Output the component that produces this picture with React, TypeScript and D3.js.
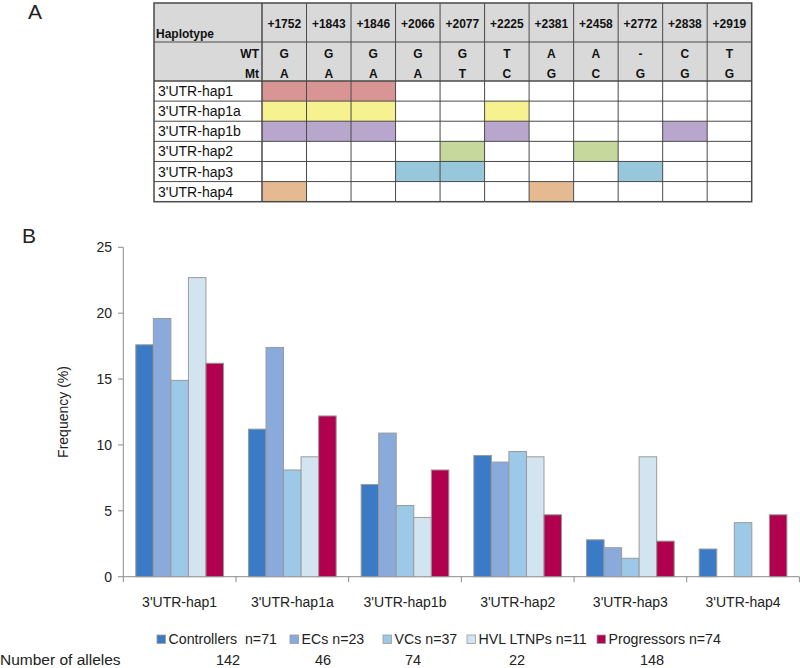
import React from "react";
import * as d3 from "d3";

const positions = ["+1752", "+1843", "+1846", "+2066", "+2077", "+2225", "+2381", "+2458", "+2772", "+2838", "+2919"];
const wtAlleles = ["G", "G", "G", "G", "G", "T", "A", "A", "-", "C", "T"];
const mtAlleles = ["A", "A", "A", "A", "T", "C", "G", "C", "G", "G", "G"];
const haplotypes = ["3'UTR-hap1", "3'UTR-hap1a", "3'UTR-hap1b", "3'UTR-hap2", "3'UTR-hap3", "3'UTR-hap4"];
const hapMutations = [
  ["+1752", "+1843", "+1846"],
  ["+1752", "+1843", "+1846", "+2225"],
  ["+1752", "+1843", "+1846", "+2225", "+2838"],
  ["+2077", "+2458"],
  ["+2066", "+2077", "+2772"],
  ["+1752", "+2381"],
];
const hapColors = ["#d99594", "#f5f28f", "#b8a6cc", "#c6d89c", "#96c7da", "#e6ba90"];

const groups = ["Controllers  n=71", "ECs n=23", "VCs n=37", "HVL LTNPs n=11", "Progressors n=74"];
const groupColors = ["#3b7ac4", "#8aaadc", "#9dc9e9", "#d3e4f1", "#b0004e"];
const controllers = [17.6, 11.2, 7.0, 9.2, 2.8, 2.1];
const ecs = [19.6, 17.4, 10.9, 8.7, 2.2, 0];
const vcs = [14.9, 8.1, 5.4, 9.5, 1.4, 4.1];
const hvl = [22.7, 9.1, 4.5, 9.1, 9.1, 0];
const progressors = [16.2, 12.2, 8.1, 4.7, 2.7, 4.7];
const seriesValues = [controllers, ecs, vcs, hvl, progressors];
const yTicks = [0, 5, 10, 15, 20, 25];
const alleleCounts = ["142", "46", "74", "22", "148"];

const FONT = "'Liberation Sans', Arial, sans-serif";

export default function App() {
  const tLeft = 154, tFirstColRight = 262, tRight = 751.7;
  const hTop = 3, h1Bottom = 42, h2Bottom = 81, tBottom = 201.7;
  const colX = d3.scaleBand<string>().domain(positions).range([tFirstColRight, tRight]);
  const rowY = d3.scaleBand<string>().domain(haplotypes).range([h2Bottom, tBottom]);

  const y = d3.scaleLinear().domain([0, 25]).range([576.7, 247.3]);
  const x0 = d3.scaleBand<string>().domain(haplotypes).range([123.3, 799.4]);
  const x1 = d3.scaleBand<string>().domain(groups).range([12.5, x0.bandwidth() - 12.5]);

  const legendX = [157, 290, 383, 467, 597];
  const alleleX = [228, 323, 413, 517, 652];

  const lineColor = "#4a4a4a";

  return (
    <svg width={800} height={668} style={{ position: "absolute", left: 0, top: 0, fontFamily: FONT }}>
      <rect width={800} height={668} fill="#fff" />
      <text x={28} y={19} fontSize={21} fill="#222">A</text>
      <text x={22} y={243} fontSize={21} fill="#222">B</text>

      <rect x={tLeft} y={hTop} width={tRight - tLeft} height={h2Bottom - hTop} fill="#d9d9d9" />
      {haplotypes.map((h, i) =>
        hapMutations[i].map((p) => (
          <rect key={h + p} x={colX(p)!} y={rowY(h)!} width={colX.bandwidth()} height={rowY.bandwidth()} fill={hapColors[i]} />
        ))
      )}
      {[h1Bottom, h2Bottom, ...haplotypes.map((h) => rowY(h)!)].map((yy, i) => (
        <line key={"h" + i} x1={tLeft} x2={tRight} y1={yy} y2={yy} stroke={lineColor} strokeWidth={1} />
      ))}
      {[tFirstColRight, ...positions.map((p) => colX(p)!)].map((xx, i) => (
        <line key={"v" + i} x1={xx} x2={xx} y1={hTop} y2={tBottom} stroke={lineColor} strokeWidth={1} />
      ))}
      <rect x={tLeft} y={hTop} width={tRight - tLeft} height={tBottom - hTop} fill="none" stroke={lineColor} strokeWidth={1.5} />
      <text x={156} y={38} fontSize={12} fontWeight="bold" fill="#111">Haplotype</text>
      <text x={259} y={58} fontSize={12} fontWeight="bold" fill="#111" textAnchor="end">WT</text>
      <text x={259} y={77.5} fontSize={12} fontWeight="bold" fill="#111" textAnchor="end">Mt</text>
      {positions.map((p, i) => {
        const cx = colX(p)! + colX.bandwidth() / 2;
        return (
          <g key={p}>
            <text x={cx} y={27.5} fontSize={12} fontWeight="bold" fill="#111" textAnchor="middle">{p}</text>
            <text x={cx} y={58} fontSize={12} fontWeight="bold" fill="#111" textAnchor="middle">{wtAlleles[i]}</text>
            <text x={cx} y={77.5} fontSize={12} fontWeight="bold" fill="#111" textAnchor="middle">{mtAlleles[i]}</text>
          </g>
        );
      })}
      {haplotypes.map((h) => (
        <text key={h} x={158} y={rowY(h)! + rowY.bandwidth() / 2 + 5} fontSize={14} fill="#111">{h}</text>
      ))}

      <line x1={123.3} x2={123.3} y1={y(25)} y2={y(0)} stroke="#8c8c8c" strokeWidth={1} />
      {yTicks.map((t) => (
        <g key={t}>
          <line x1={118} x2={123.3} y1={y(t)} y2={y(t)} stroke="#8c8c8c" />
          <text x={112} y={y(t) + 5} fontSize={14} textAnchor="end" fill="#222">{t}</text>
        </g>
      ))}
      <text transform={`translate(68, ${(y(0) + y(25)) / 2}) rotate(-90)`} fontSize={14} textAnchor="middle" fill="#222">Frequency (%)</text>

      <line x1={123.3} x2={799.4} y1={y(0)} y2={y(0)} stroke="#8c8c8c" />
      {[...haplotypes.map((h) => x0(h)!), 799.4].map((xx, i) => (
        <line key={"xt" + i} x1={xx} x2={xx} y1={y(0)} y2={y(0) + 5.5} stroke="#8c8c8c" />
      ))}

      {haplotypes.map((h, ci) => (
        <g key={h} transform={`translate(${x0(h)},0)`}>
          {groups.map((g, gi) => {
            const v = seriesValues[gi][ci];
            if (!v) return null;
            return (
              <rect key={g} x={x1(g)!} y={y(v)} width={x1.bandwidth()} height={y(0) - y(v)} fill={groupColors[gi]} stroke="#9a9a9a" strokeWidth={1} />
            );
          })}
          <text x={x0.bandwidth() / 2} y={607} fontSize={14} textAnchor="middle" fill="#222">{h}</text>
        </g>
      ))}

      {groups.map((g, i) => (
        <g key={g} transform={`translate(${legendX[i]},0)`}>
          <rect x={0} y={635} width={8.5} height={8.5} fill={groupColors[i]} stroke="#9a9a9a" strokeWidth={0.8} />
          <text x={11.5} y={643.5} fontSize={14.2} fill="#222" style={{ whiteSpace: "pre" }}>{g}</text>
        </g>
      ))}

      <text x={0} y={665} fontSize={15.5} fill="#222">Number of alleles</text>
      {alleleCounts.map((c, i) => (
        <text key={c} x={alleleX[i]} y={665} fontSize={14.5} textAnchor="middle" fill="#222">{c}</text>
      ))}
    </svg>
  );
}
